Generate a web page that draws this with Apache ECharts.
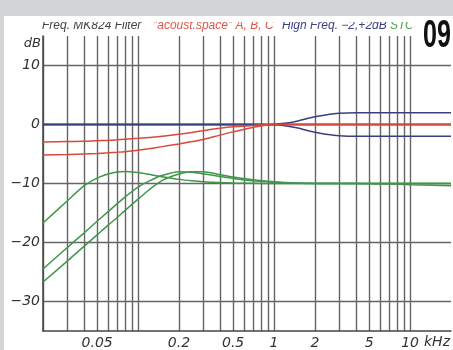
<!DOCTYPE html>
<html>
<head>
<meta charset="utf-8">
<script src="https://cdn.jsdelivr.net/npm/echarts@6/dist/echarts.min.js"></script>
<style>
html, body { margin: 0; padding: 0; background: #fff; }
#chart { width: 453px; height: 350px; }
</style>
</head>
<body>
<div id="chart"></div>
<script>
// frequencies in kHz
var freqs = [0.02, 0.03, 0.04, 0.05, 0.06, 0.07, 0.08, 0.1, 0.12, 0.15, 0.2, 0.25, 0.3, 0.4, 0.5, 0.7, 1, 1.2, 1.5, 1.75, 2, 2.5, 3, 4, 5, 7, 10, 15, 20];

// High Freq. -2 / 0 / +2 dB
var hfFlat = [0, 0, 0, 0, 0, 0, 0, 0, 0, 0, 0, 0, 0, 0, 0, 0, 0, 0, 0, 0, 0, 0, 0, 0, 0, 0, 0, 0, 0];
var hfUp = [0, 0, 0, 0, 0, 0, 0, 0, 0, 0, 0, 0, 0, 0, 0, 0.01, 0.05, 0.2, 0.6, 1.0, 1.3, 1.7, 1.9, 2.0, 2.0, 2.0, 2.0, 2.0, 2.0];
var hfDown = [0, 0, 0, 0, 0, 0, 0, 0, 0, 0, 0, 0, 0, 0, 0, -0.01, -0.05, -0.2, -0.6, -1.0, -1.3, -1.7, -1.9, -2.0, -2.0, -2.0, -2.0, -2.0, -2.0];

// "acoust.space" shelves
var spaceA = [-2.95, -2.9, -2.85, -2.75, -2.7, -2.6, -2.5, -2.35, -2.2, -2.0, -1.65, -1.35, -1.05, -0.65, -0.4, -0.15, 0, 0, 0, 0, 0, 0, 0, 0, 0, 0, 0, 0, 0];
var spaceB = [-5.15, -5.1, -5.0, -4.9, -4.8, -4.7, -4.6, -4.35, -4.1, -3.75, -3.3, -2.9, -2.55, -1.8, -1.25, -0.5, 0, 0, 0, 0, 0, 0, 0, 0, 0, 0, 0, 0, 0];

// MK824 high pass filters
var hp1 = [-16.7, -13.0, -10.4, -9.1, -8.4, -8.05, -7.95, -8.15, -8.45, -8.85, -9.3, -9.55, -9.7, -9.85, -9.92, -9.97, -10, -10, -10, -10, -10, -10, -10, -10, -10.05, -10.1, -10.2, -10.3, -10.4];
var hp2 = [-24.5, -20.9, -18.4, -16.4, -14.8, -13.45, -12.3, -10.6, -9.6, -8.65, -8.0, -8.1, -8.35, -8.8, -9.15, -9.55, -9.8, -9.9, -9.96, -10, -10, -10, -10, -10, -10, -10, -10, -10, -10];
var hp3 = [-26.7, -23.2, -20.65, -18.7, -17.1, -15.8, -14.6, -12.65, -11.1, -9.5, -8.4, -8.0, -8.0, -8.5, -8.9, -9.35, -9.7, -9.82, -9.93, -9.97, -9.98, -10, -10, -10, -10, -10, -10, -10, -10];

var gridFreqs = [0.02, 0.03, 0.04, 0.05, 0.06, 0.07, 0.08, 0.09, 0.1, 0.2, 0.3, 0.4, 0.5, 0.6, 0.7, 0.8, 0.9, 1, 2, 3, 4, 5, 6, 7, 8, 9, 10];
var xTickLabels = [0.05, 0.2, 0.5, 1, 2, 5, 10];
var yTickLabels = [-30, -20, -10, 0, 10];

var labelFont = "'DejaVu Sans', sans-serif";
var titleFont = "'Liberation Sans', Arial, sans-serif";

function pairs(vals) {
    return freqs.map(function (f, i) { return [f, vals[i]]; });
}

function curve(name, vals, color) {
    return {
        name: name,
        type: 'line',
        data: pairs(vals),
        smooth: 0.3,
        symbol: 'none',
        lineStyle: { color: color, width: 1.5 },
        silent: true
    };
}

var blue = '#3b3f7d', red = '#d8493c', green = '#3f9649';

var option = {
    animation: false,
    backgroundColor: '#fff',
    grid: { left: 43, top: 36, right: 2, bottom: 18 },
    xAxis: {
        type: 'log',
        logBase: 10,
        min: 0.02,
        max: 20,
        axisLine: { show: true, onZero: false, lineStyle: { color: '#444', width: 1.5 } },
        axisTick: { show: false, customValues: gridFreqs },
        splitLine: { show: true, lineStyle: { color: '#666', width: 1.4 } },
        axisLabel: {
            customValues: xTickLabels,
            margin: 5,
            fontSize: 14,
            fontStyle: 'italic',
            fontFamily: labelFont,
            color: '#333',
            formatter: function (v) { return String(v); }
        }
    },
    yAxis: {
        type: 'value',
        min: -35,
        max: 15,
        axisLine: { show: true, lineStyle: { color: '#444', width: 1.5 } },
        axisTick: { show: false, customValues: yTickLabels },
        splitLine: { show: true, lineStyle: { color: '#666', width: 1.4 } },
        axisLabel: {
            customValues: yTickLabels,
            margin: 3,
            fontSize: 14,
            fontStyle: 'italic',
            fontFamily: labelFont,
            color: '#333',
            formatter: function (v) { return String(v).replace('-', '\u2212'); }
        }
    },
    series: [
        curve('HF 0', hfFlat, blue),
        curve('HF +2', hfUp, blue),
        curve('HF -2', hfDown, blue),
        curve('A', spaceA, red),
        curve('B', spaceB, red),
        curve('HP 1', hp1, green),
        curve('HP 2', hp2, green),
        curve('HP 3', hp3, green)
    ],
    graphic: [
        { type: 'text', x: 42, y: 26, z: 50, style: { text: 'Freq. MK824 Filter', fill: '#444', font: 'italic 12px ' + titleFont, verticalAlign: 'middle' } },
        { type: 'text', x: 153, y: 26, z: 50, style: { text: '"acoust.space" A, B, C', fill: '#e05548', font: 'italic 12px ' + titleFont, verticalAlign: 'middle' } },
        { type: 'text', x: 282, y: 26, z: 50, style: { text: 'High Freq. \u22122,+2dB', fill: '#3d3f85', font: 'italic 12px ' + titleFont, verticalAlign: 'middle' } },
        { type: 'text', x: 390, y: 26, z: 50, style: { text: 'STO', fill: '#4aa050', font: 'italic 12px ' + titleFont, verticalAlign: 'middle' } },
        // clip the top of the title line like the scan
        { type: 'rect', z: 60, shape: { x: 30, y: 16, width: 382, height: 6 }, style: { fill: '#fff' } },
        { type: 'rect', z: 60, shape: { x: 412, y: 16, width: 41, height: 42 }, style: { fill: '#fff' } },
        { type: 'text', x: 437, y: 37, z: 70, scaleX: 0.66, style: { text: '09', fill: '#111', font: 'bold 38px ' + titleFont, align: 'center', verticalAlign: 'middle' } },
        { type: 'rect', z: 80, shape: { x: 0, y: 0, width: 453, height: 16 }, style: { fill: '#d2d4d6' } },
        { type: 'rect', z: 80, shape: { x: 0, y: 0, width: 4, height: 350 }, style: { fill: '#d2d4d6' } },
        { type: 'text', x: 41, y: 44, z: 50, style: { text: 'dB', fill: '#333', font: 'italic 13px ' + labelFont, align: 'right', verticalAlign: 'middle' } },
        { type: 'text', x: 424, y: 342, z: 50, style: { text: 'kHz', fill: '#333', font: 'italic 14px ' + labelFont, align: 'left', verticalAlign: 'middle' } }
    ]
};

var chart = echarts.init(document.getElementById('chart'), null, { renderer: 'canvas' });
chart.setOption(option);
</script>
</body>
</html>
